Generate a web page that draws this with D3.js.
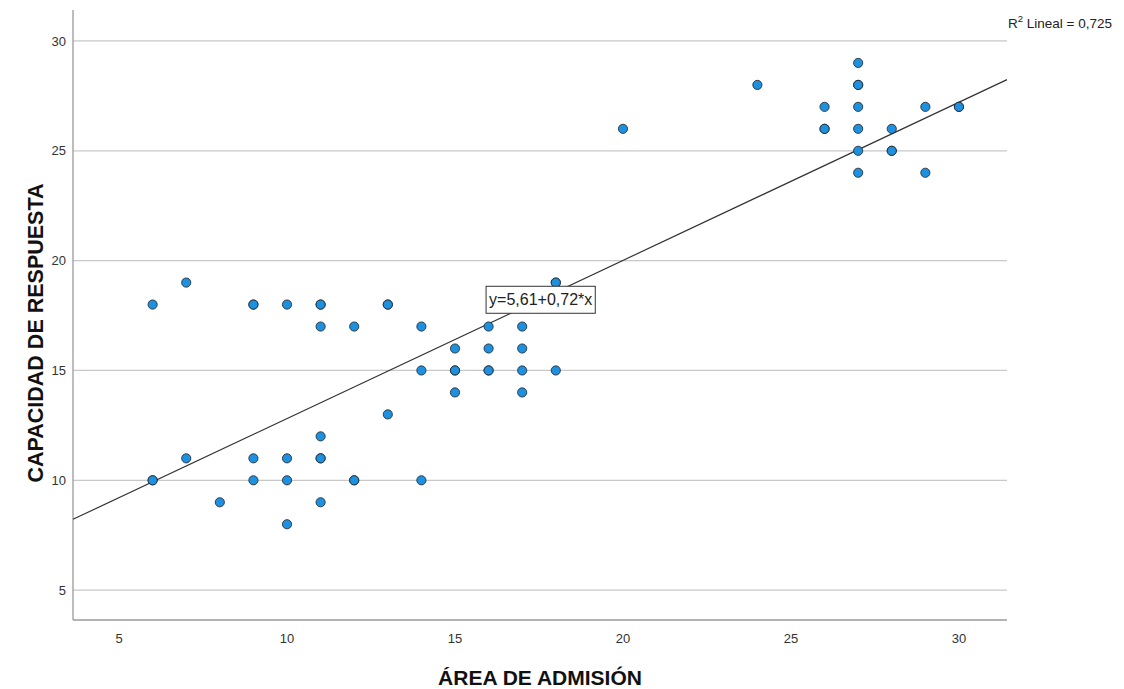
<!DOCTYPE html>
<html>
<head>
<meta charset="utf-8">
<script src="https://cdn.jsdelivr.net/npm/d3@7"></script>
<style>
  body { margin: 0; background: #fff; }
  svg { font-family: Arial, 'Liberation Sans', sans-serif; }
</style>
</head>
<body>
<div id="chart"></div>
<script>
// data (repeated pairs = overlapping points)
var areaAdmision = [6, 6, 6, 7, 7, 8, 9, 9, 9, 9, 10, 10, 10, 10, 11, 11, 11, 11, 11, 11, 11, 12, 12, 12, 13, 13, 13,
  14, 14, 14, 15, 15, 15, 15, 16, 16, 16, 16, 17, 17, 17, 17, 18, 18, 18, 20, 24, 26, 26, 26, 27, 27, 27, 27, 27, 27, 27,
  28, 28, 28, 29, 29, 30, 30]
var capacidad = [18, 10, 10, 19, 11, 9, 18, 18, 11, 10, 18, 11, 10, 8, 18, 18, 17, 12, 11, 11, 9, 17, 10, 10, 18, 18, 13,
  17, 15, 10, 16, 15, 15, 14, 17, 16, 15, 15, 17, 16, 15, 14, 19, 19, 15, 26, 28, 27, 26, 26, 29, 28, 28, 27, 26, 25, 24,
  26, 25, 25, 27, 24, 27, 27]
var xTicks = [5, 10, 15, 20, 25, 30]
var yTicks = [5, 10, 15, 20, 25, 30]
var intercept = 5.61
var slope = 0.72
var fitLabel = 'y=5,61+0,72*x'
var r2Label = 'Lineal = 0,725'

var width = 1124
var height = 689
var pLeft = 73
var pRight = 1007
var pTop = 10
var pBottom = 620

var x = d3.scaleLinear().domain([3.63, 31.43]).range([pLeft, pRight])
var y = d3.scaleLinear().domain([3.64, 31.41]).range([pBottom, pTop])

var svg = d3.select('#chart')
  .append('svg')
  .attr('width', width)
  .attr('height', height)

// grid lines
svg.append('g')
  .selectAll('line')
  .data(yTicks)
  .enter()
  .append('line')
  .attr('x1', pLeft)
  .attr('x2', pRight)
  .attr('y1', function (d) { return y(d) })
  .attr('y2', function (d) { return y(d) })
  .attr('stroke', '#c8c8c8')
  .attr('stroke-width', 1.3)

// axes lines
svg.append('line')
  .attr('x1', pLeft).attr('x2', pLeft)
  .attr('y1', pTop).attr('y2', pBottom)
  .attr('stroke', '#9a9a9a').attr('stroke-width', 1.3)
svg.append('line')
  .attr('x1', pLeft).attr('x2', pRight)
  .attr('y1', pBottom).attr('y2', pBottom)
  .attr('stroke', '#9a9a9a').attr('stroke-width', 1.3)

// tick labels
svg.append('g')
  .selectAll('text')
  .data(yTicks)
  .enter()
  .append('text')
  .attr('x', pLeft - 7)
  .attr('y', function (d) { return y(d) })
  .attr('dy', '.35em')
  .attr('text-anchor', 'end')
  .attr('font-size', 13)
  .attr('fill', '#333')
  .text(function (d) { return d })

svg.append('g')
  .selectAll('text')
  .data(xTicks)
  .enter()
  .append('text')
  .attr('x', function (d) { return x(d) })
  .attr('y', pBottom + 23)
  .attr('text-anchor', 'middle')
  .attr('font-size', 13)
  .attr('fill', '#333')
  .text(function (d) { return d })

// regression line
var xd = x.domain()
svg.append('line')
  .attr('x1', x(xd[0]))
  .attr('y1', y(intercept + slope * xd[0]))
  .attr('x2', x(xd[1]))
  .attr('y2', y(intercept + slope * xd[1]))
  .attr('stroke', '#333')
  .attr('stroke-width', 1.2)

// points
svg.append('g')
  .selectAll('circle')
  .data(areaAdmision)
  .enter()
  .append('circle')
  .attr('cx', function (d) { return x(d) })
  .attr('cy', function (d, i) { return y(capacidad[i]) })
  .attr('r', 4.6)
  .attr('fill', '#1e90e0')
  .attr('stroke', '#222')
  .attr('stroke-width', 1)
  .attr('stroke-opacity', 0.8)

// equation label box
var lab = svg.append('text')
  .attr('x', x(17.55))
  .attr('y', y(18.23))
  .attr('dy', '.36em')
  .attr('text-anchor', 'middle')
  .attr('font-size', 16)
  .attr('fill', '#222')
  .text(fitLabel)
var bb = lab.node().getBBox()
svg.append('rect')
  .attr('x', bb.x - 3)
  .attr('y', bb.y - 5)
  .attr('width', bb.width + 6)
  .attr('height', bb.height + 10)
  .attr('fill', '#fff')
  .attr('stroke', '#333')
  .attr('stroke-width', 1)
lab.raise()

// R2 label
var r2 = svg.append('text')
  .attr('x', 1008)
  .attr('y', 28)
  .attr('font-size', 13.5)
  .attr('fill', '#222')
r2.append('tspan').text('R')
r2.append('tspan').attr('dy', -6).attr('font-size', 9.5).text('2')
r2.append('tspan').attr('dy', 6).text(' ' + r2Label)

// axis titles
svg.append('text')
  .attr('x', 540)
  .attr('y', 685)
  .attr('text-anchor', 'middle')
  .attr('font-size', 21)
  .attr('font-weight', 'bold')
  .attr('fill', '#111')
  .text('ÁREA DE ADMISIÓN')

svg.append('text')
  .attr('transform', 'translate(43,333) rotate(-90)')
  .attr('text-anchor', 'middle')
  .attr('font-size', 21.5)
  .attr('font-weight', 'bold')
  .attr('fill', '#111')
  .text('CAPACIDAD DE RESPUESTA')
</script>
</body>
</html>
